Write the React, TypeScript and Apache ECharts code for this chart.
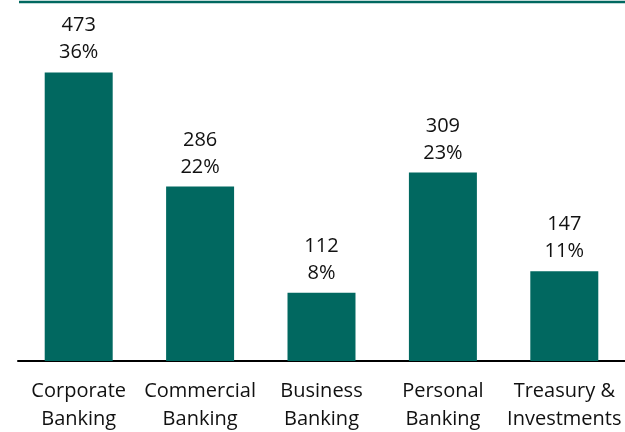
import React, { useEffect, useRef } from "react";
import * as echarts from "echarts";

const categories = ["Corporate\nBanking", "Commercial\nBanking", "Business\nBanking", "Personal\nBanking", "Treasury &\nInvestments"];
const values = [473, 286, 112, 309, 147];
const shares = ["36%", "22%", "8%", "23%", "11%"];

export default function App() {
  const ref = useRef<HTMLDivElement>(null);
  useEffect(() => {
    if (!ref.current) return;
    const chart = echarts.init(ref.current, null, { renderer: "svg" });
    const font = "'Open Sans', Lato, sans-serif";
    chart.setOption({
      animation: false,
      grid: { left: 18, right: 0, top: 56, bottom: 71 },
      graphic: [
        {
          type: "line",
          shape: { x1: 19, y1: 2, x2: 625, y2: 2 },
          style: { stroke: "#016860", lineWidth: 2.5 },
        },
      ],
      xAxis: {
        type: "category",
        data: categories,
        axisLine: { lineStyle: { color: "#000", width: 2 } },
        axisTick: { show: false },
        axisLabel: {
          color: "#111",
          fontFamily: font,
          fontSize: 20,
          lineHeight: 28,
          margin: 14,
          interval: 0,
        },
      },
      yAxis: {
        type: "value",
        min: 0,
        max: 500,
        show: false,
        splitLine: { show: false },
      },
      series: [
        {
          type: "bar",
          data: values,
          barWidth: "56%",
          itemStyle: { color: "#016860" },
          label: {
            show: true,
            position: "top",
            distance: 8,
            color: "#111",
            fontFamily: font,
            fontSize: 20,
            lineHeight: 27,
            formatter: (p: any) => `${p.value}\n${shares[p.dataIndex]}`,
          },
        },
      ],
    });
    return () => chart.dispose();
  }, []);
  return <div ref={ref} style={{ position: "fixed", left: 0, top: 0, width: 625, height: 432 }} />;
}
